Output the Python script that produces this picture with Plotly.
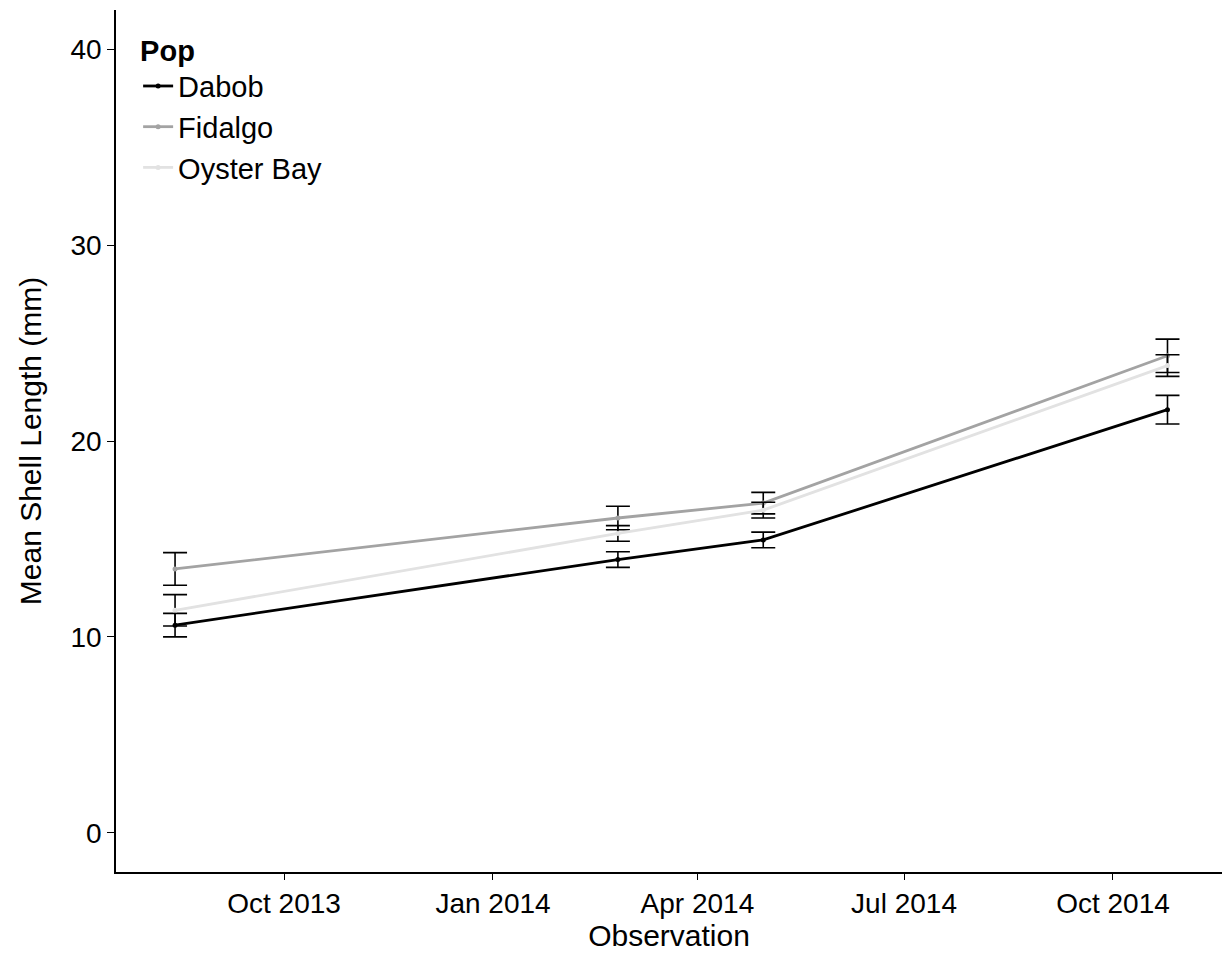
import plotly.graph_objects as go

# Sampling dates and population summaries (mean shell length, mm, with SE)
obs_dates = ["2013-08-14", "2014-02-25", "2014-04-30", "2014-10-25"]
populations = ["Dabob", "Fidalgo", "Oyster Bay"]

dabob_mean = [10.6, 13.95, 14.95, 21.6]
dabob_se = [0.6, 0.4, 0.4, 0.73]

fidalgo_mean = [13.47, 16.07, 16.83, 24.35]
fidalgo_se = [0.83, 0.6, 0.55, 0.85]

oyster_mean = [11.36, 15.28, 16.47, 23.85]
oyster_se = [0.8, 0.4, 0.4, 0.55]

y_ticks = [0, 10, 20, 30, 40]
x_ticks = ["2013-10-01", "2014-01-01", "2014-04-01", "2014-07-01", "2014-10-01"]

series = [
    (populations[0], dabob_mean, dabob_se, "#000000"),
    (populations[1], fidalgo_mean, fidalgo_se, "#a3a3a3"),
    (populations[2], oyster_mean, oyster_se, "#e2e2e2"),
]

FONT = "Liberation Sans, Arial, sans-serif"

fig = go.Figure()
for name, mean, se, color in series:
    fig.add_trace(go.Scatter(
        x=obs_dates, y=mean, name=name,
        mode="lines+markers",
        line=dict(color=color, width=2.8),
        marker=dict(color=color, size=5),
        error_y=dict(type="data", array=se, visible=True,
                     color="black", thickness=1.6, width=12),
    ))

fig.update_layout(
    width=1222, height=957,
    margin=dict(l=116, r=0, t=10, b=85),
    paper_bgcolor="white", plot_bgcolor="white",
    font=dict(family=FONT, color="black", size=28),
    showlegend=True,
    legend=dict(
        title=dict(text="<b>Pop</b>", font=dict(size=29)),
        font=dict(size=29),
        x=0.02, y=0.985, xanchor="left", yanchor="top",
        bgcolor="rgba(255,255,255,0)",
        itemwidth=30,
        tracegroupgap=0,
    ),
    xaxis=dict(
        title=dict(text="Observation", font=dict(size=30), standoff=4),
        type="date",
        range=["2013-07-19", "2014-11-18"],
        tickvals=x_ticks, tickformat="%b %Y",
        ticks="outside", ticklen=6, tickcolor="black", tickwidth=1,
        showline=True, linecolor="black", linewidth=1.5,
        showgrid=False, zeroline=False,
        tickfont=dict(size=28),
    ),
    yaxis=dict(
        title=dict(text="Mean Shell Length (mm)", font=dict(size=30), standoff=20),
        range=[-2, 42],
        tickvals=y_ticks,
        ticks="outside", ticklen=7, tickcolor="black", tickwidth=1,
        showline=True, linecolor="black", linewidth=1.5,
        showgrid=False, zeroline=False,
        tickfont=dict(size=28),
    ),
)

fig.write_html("out.html")
